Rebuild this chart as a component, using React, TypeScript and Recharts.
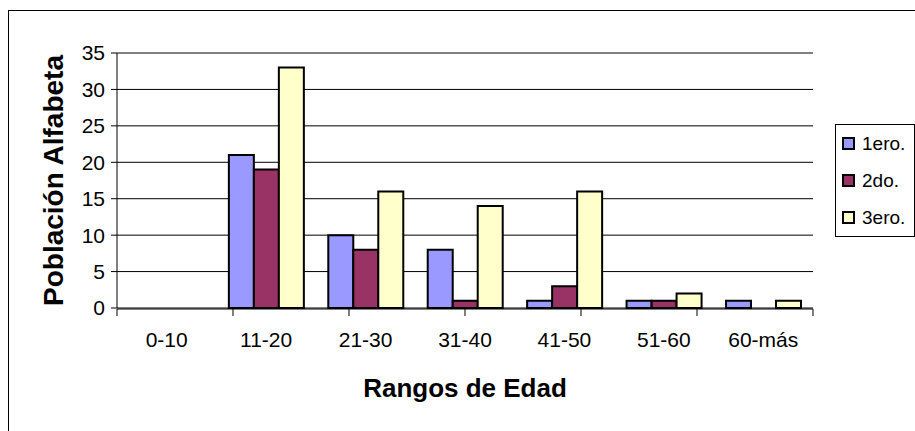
import React from 'react';
import { BarChart, Bar, XAxis, YAxis, CartesianGrid, Legend, Label } from 'recharts';

const rangos = ['0-10', '11-20', '21-30', '31-40', '41-50', '51-60', '60-más'];
const primero = [0, 21, 10, 8, 1, 1, 1];
const segundo = [0, 19, 8, 1, 3, 1, 0];
const tercero = [0, 33, 16, 14, 16, 2, 1];
const yTicks = [0, 5, 10, 15, 20, 25, 30, 35];
const edgeTicks = [0, 1, 2, 3, 4, 5, 6, 7];

const data = rangos.map((rango, i) => ({
  rango,
  '1ero.': primero[i],
  '2do.': segundo[i],
  '3ero.': tercero[i],
}));

const FONT = '"Liberation Sans", Arial, sans-serif';

const renderLegend = (props: any) => (
  <div
    style={{
      border: '1px solid #000',
      boxSizing: 'border-box',
      width: 80,
      height: 113,
      background: '#fff',
      fontFamily: FONT,
    }}
  >
    {(props.payload || []).map((entry: any) => (
      <div key={entry.value} style={{ height: 37, display: 'flex', alignItems: 'center' }}>
        <span
          style={{
            display: 'inline-block',
            width: 9,
            height: 9,
            border: '2px solid #000',
            background: entry.color,
            marginLeft: 6,
            marginRight: 7,
          }}
        />
        <span style={{ fontSize: 19, color: '#000', whiteSpace: 'nowrap' }}>{entry.value}</span>
      </div>
    ))}
  </div>
);

export default function App() {
  return (
    <div
      style={{
        position: 'fixed',
        left: 0,
        top: 0,
        width: 915,
        height: 431,
        overflow: 'hidden',
        background: '#fff',
        fontFamily: FONT,
      }}
    >
      <div
        style={{
          position: 'absolute',
          left: 8,
          top: 10,
          width: 1000,
          height: 1000,
          border: '1px solid #000',
          pointerEvents: 'none',
        }}
      />
      <div style={{ position: 'absolute', left: 8, top: 8 }}>
        <BarChart
          width={907}
          height={415}
          data={data}
          margin={{ top: 45, right: 102, bottom: 113, left: 49 }}
          barCategoryGap="12.5%"
          barGap={0}
          style={{ fontFamily: FONT }}
        >
          <CartesianGrid vertical={false} stroke="#000" />
          {/* numeric helper axis: draws the axis line and tick marks between categories */}
          <XAxis
            xAxisId="edge"
            type="number"
            domain={[0, 7]}
            ticks={edgeTicks}
            allowDataOverflow
            tick={() => <g />}
            tickSize={7}
            height={1}
            axisLine={{ stroke: '#000' }}
            tickLine={{ stroke: '#000' }}
          />
          <XAxis
            dataKey="rango"
            height={1}
            interval={0}
            tickLine={false}
            axisLine={false}
            tickSize={0}
            tickMargin={24}
            tick={{ fill: '#000', fontSize: 21 }}
          >
            <Label
              content={() => (
                <text x={457} y={389} textAnchor="middle" fontSize={26} fontWeight="bold" fill="#000">
                  Rangos de Edad
                </text>
              )}
            />
          </XAxis>
          <YAxis
            width={60}
            domain={[0, 35]}
            ticks={yTicks}
            interval={0}
            tickSize={6}
            tickMargin={6}
            tick={{ fill: '#000', fontSize: 21 }}
            axisLine={{ stroke: '#000' }}
            tickLine={{ stroke: '#000' }}
          >
            <Label
              content={() => (
                <text
                  x={55}
                  y={172.5}
                  transform="rotate(-90, 55, 172.5)"
                  textAnchor="middle"
                  fontSize={28}
                  fontWeight="bold"
                  fill="#000"
                >
                  Población Alfabeta
                </text>
              )}
            />
          </YAxis>
          <Legend
            layout="vertical"
            align="center"
            verticalAlign="middle"
            content={renderLegend}
            wrapperStyle={{ position: 'absolute', left: 827, top: 116, width: 80, height: 113 }}
          />
          <Bar dataKey="1ero." fill="#9999FF" stroke="#000" strokeWidth={2} isAnimationActive={false} />
          <Bar dataKey="2do." fill="#993366" stroke="#000" strokeWidth={2} isAnimationActive={false} />
          <Bar dataKey="3ero." fill="#FFFFCC" stroke="#000" strokeWidth={2} isAnimationActive={false} />
        </BarChart>
      </div>
    </div>
  );
}
